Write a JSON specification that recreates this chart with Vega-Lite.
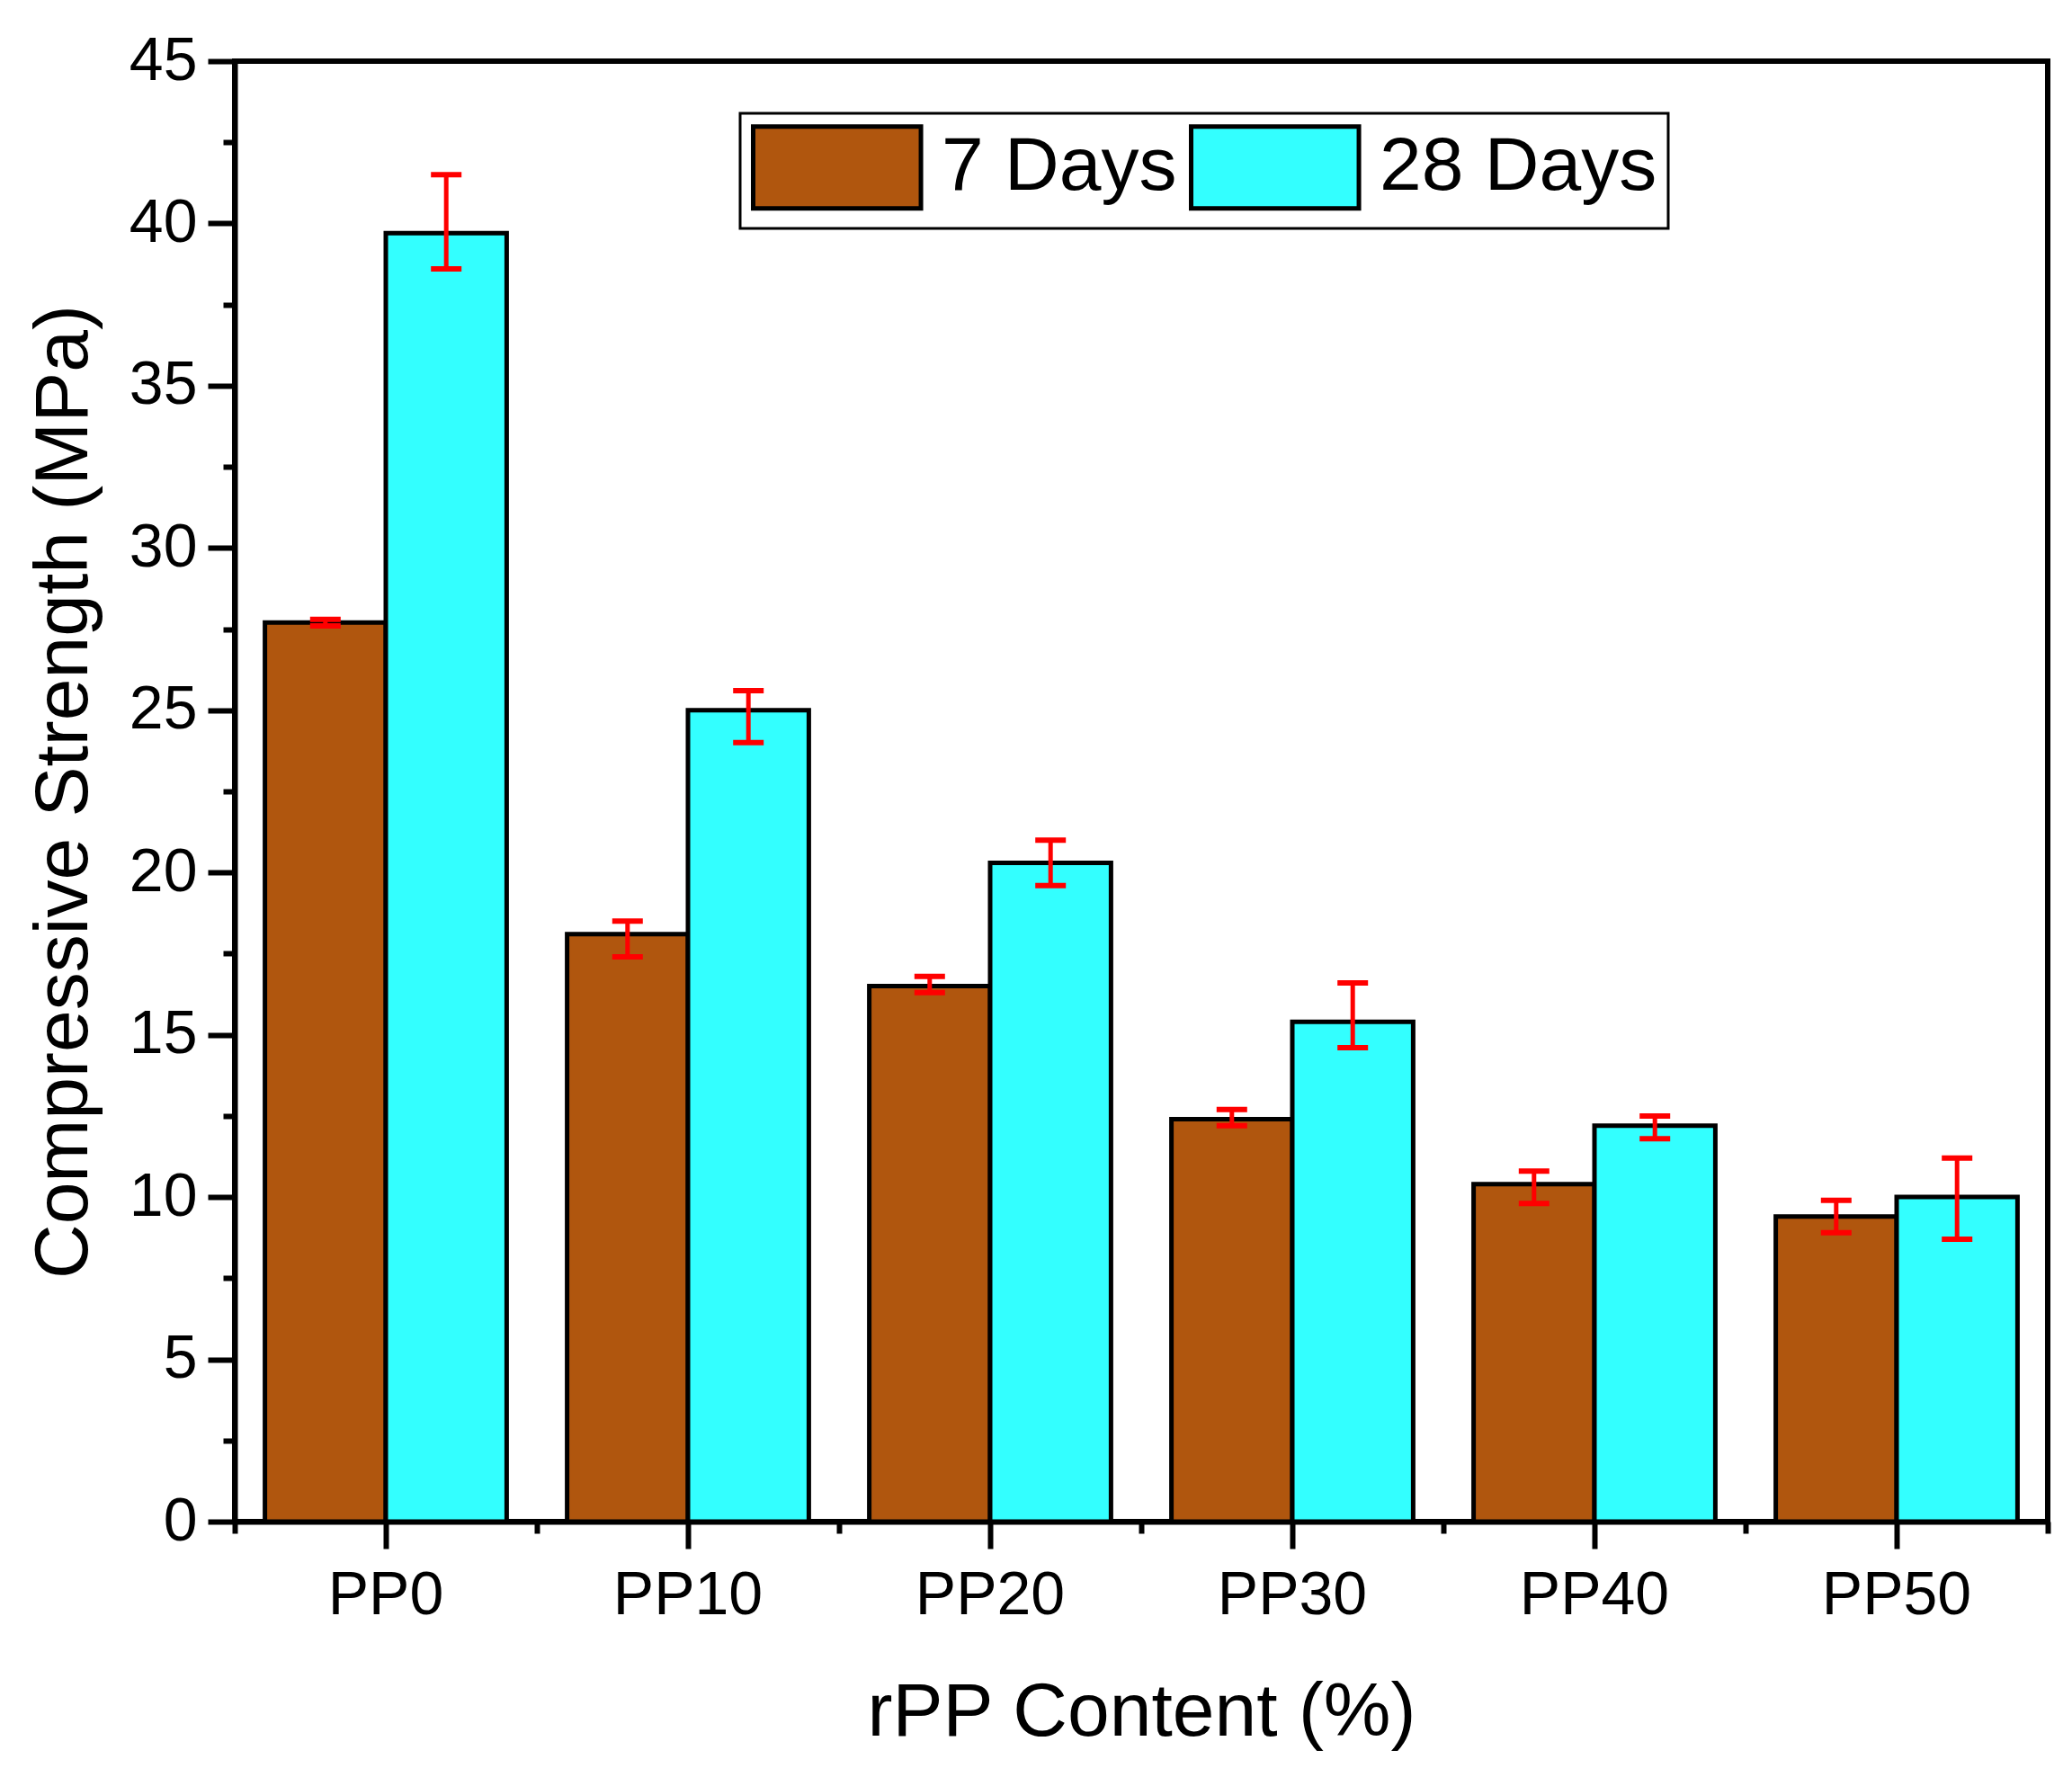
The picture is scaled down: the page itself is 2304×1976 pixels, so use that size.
{
  "$schema": "https://vega.github.io/schema/vega-lite/v6.json",
  "width": 2016,
  "height": 1624,
  "autosize": {"type": "none"},
  "padding": {"left": 261, "top": 68, "right": 27, "bottom": 284},
  "background": "white",
  "config": {
    "font": "Liberation Sans",
    "view": {"stroke": "black", "strokeWidth": 6},
    "axis": {"labelFont": "Liberation Sans", "titleFont": "Liberation Sans", "labelColor": "black", "titleColor": "black", "domainColor": "black", "tickColor": "black", "zindex": 1},
    "legend": {"padding": 12, "strokeColor": "black", "strokeWidth": 3, "fillColor": "white",
               "symbolStrokeColor": "black", "symbolStrokeWidth": 5, "symbolOpacity": 1,
               "labelFontSize": 84, "labelFont": "Liberation Sans", "labelColor": "black", "labelOffset": 116, "columnPadding": 5, "labelLimit": 1000}
  },
  "data": {
    "values": [
      {"mix": "PP0", "age": "7 Days", "value": 27.7, "low": 27.6, "high": 27.8},
      {"mix": "PP0", "age": "28 Days", "value": 39.7, "low": 38.6, "high": 41.5},
      {"mix": "PP10", "age": "7 Days", "value": 18.1, "low": 17.4, "high": 18.5},
      {"mix": "PP10", "age": "28 Days", "value": 25.0, "low": 24.0, "high": 25.6},
      {"mix": "PP20", "age": "7 Days", "value": 16.5, "low": 16.3, "high": 16.8},
      {"mix": "PP20", "age": "28 Days", "value": 20.3, "low": 19.6, "high": 21.0},
      {"mix": "PP30", "age": "7 Days", "value": 12.4, "low": 12.2, "high": 12.7},
      {"mix": "PP30", "age": "28 Days", "value": 15.4, "low": 14.6, "high": 16.6},
      {"mix": "PP40", "age": "7 Days", "value": 10.4, "low": 9.8, "high": 10.8},
      {"mix": "PP40", "age": "28 Days", "value": 12.2, "low": 11.8, "high": 12.5},
      {"mix": "PP50", "age": "7 Days", "value": 9.4, "low": 8.9, "high": 9.9},
      {"mix": "PP50", "age": "28 Days", "value": 10.0, "low": 8.7, "high": 11.2}
    ]
  },
  "resolve": {"scale": {"x": "independent"}, "axis": {"x": "independent", "y": "independent"}},
  "layer": [
    {
      "mark": {"type": "bar", "stroke": "black", "strokeWidth": 5},
      "encoding": {
        "x": {"field": "mix", "type": "nominal", "sort": ["PP0","PP10","PP20","PP30","PP40","PP50"],
              "scale": {"paddingInner": 0.2, "paddingOuter": 0.1},
              "axis": {"orient": "bottom", "labelAngle": 0, "labelFontSize": 68, "labelPadding": 18, "tickSize": 30, "tickWidth": 6, "domainWidth": 6,
                       "title": "rPP Content (%)", "titleFontSize": 84, "titleFontWeight": "normal", "titlePadding": 55}},
        "xOffset": {"field": "age", "type": "nominal", "sort": ["7 Days", "28 Days"], "scale": {"paddingInner": 0, "paddingOuter": 0}},
        "y": {"field": "value", "type": "quantitative", "scale": {"domain": [0, 45], "nice": false},
              "axis": {"orient": "left", "values": [0,5,10,15,20,25,30,35,40,45], "labelFontSize": 68, "labelPadding": 12, "tickSize": 30, "tickWidth": 6, "domainWidth": 6, "grid": false,
                       "title": "Compressive Strength (MPa)", "titleFontSize": 84, "titleFontWeight": "normal", "titlePadding": 29}},
        "color": {"field": "age", "type": "nominal", "sort": ["7 Days", "28 Days"],
                  "scale": {"domain": ["7 Days", "28 Days"], "range": ["#B0560E", "#33FFFF"]},
                  "legend": {"orient": "none", "legendX": 562, "legendY": 58, "direction": "horizontal", "title": null,
                             "symbolType": "M-1,-1H3.1V1H-1Z", "symbolSize": 8281}}
      }
    },
    {
      "mark": {"type": "rule", "color": "#FF0000", "strokeWidth": 5},
      "encoding": {
        "x": {"field": "mix", "type": "nominal", "sort": ["PP0","PP10","PP20","PP30","PP40","PP50"], "scale": {"paddingInner": 0.2, "paddingOuter": 0.1}, "axis": null},
        "xOffset": {"field": "age", "type": "nominal", "sort": ["7 Days", "28 Days"], "scale": {"paddingInner": 0, "paddingOuter": 0}},
        "y": {"field": "low", "type": "quantitative", "axis": null},
        "y2": {"field": "high"}
      }
    },
    {
      "mark": {"type": "tick", "color": "#FF0000", "thickness": 6, "size": 34, "opacity": 1},
      "encoding": {
        "x": {"field": "mix", "type": "nominal", "sort": ["PP0","PP10","PP20","PP30","PP40","PP50"], "scale": {"paddingInner": 0.2, "paddingOuter": 0.1}, "axis": null},
        "xOffset": {"field": "age", "type": "nominal", "sort": ["7 Days", "28 Days"], "scale": {"paddingInner": 0, "paddingOuter": 0}},
        "y": {"field": "low", "type": "quantitative", "axis": null}
      }
    },
    {
      "mark": {"type": "tick", "color": "#FF0000", "thickness": 6, "size": 34, "opacity": 1},
      "encoding": {
        "x": {"field": "mix", "type": "nominal", "sort": ["PP0","PP10","PP20","PP30","PP40","PP50"], "scale": {"paddingInner": 0.2, "paddingOuter": 0.1}, "axis": null},
        "xOffset": {"field": "age", "type": "nominal", "sort": ["7 Days", "28 Days"], "scale": {"paddingInner": 0, "paddingOuter": 0}},
        "y": {"field": "high", "type": "quantitative", "axis": null}
      }
    },
    {
      "mark": {"type": "point", "opacity": 0, "clip": true},
      "encoding": {
        "x": {"field": "value", "type": "quantitative", "scale": {"domain": [0, 6], "nice": false, "zero": false},
              "axis": {"orient": "bottom", "values": [0,1,2,3,4,5,6], "labels": false, "domain": false, "title": null, "grid": false, "tickSize": 13, "tickWidth": 6}},
        "y": {"field": "value", "type": "quantitative",
              "axis": {"orient": "left", "values": [2.5,7.5,12.5,17.5,22.5,27.5,32.5,37.5,42.5], "labels": false, "domain": false, "title": null, "grid": false, "tickSize": 13, "tickWidth": 6}}
      }
    }
  ]
}
